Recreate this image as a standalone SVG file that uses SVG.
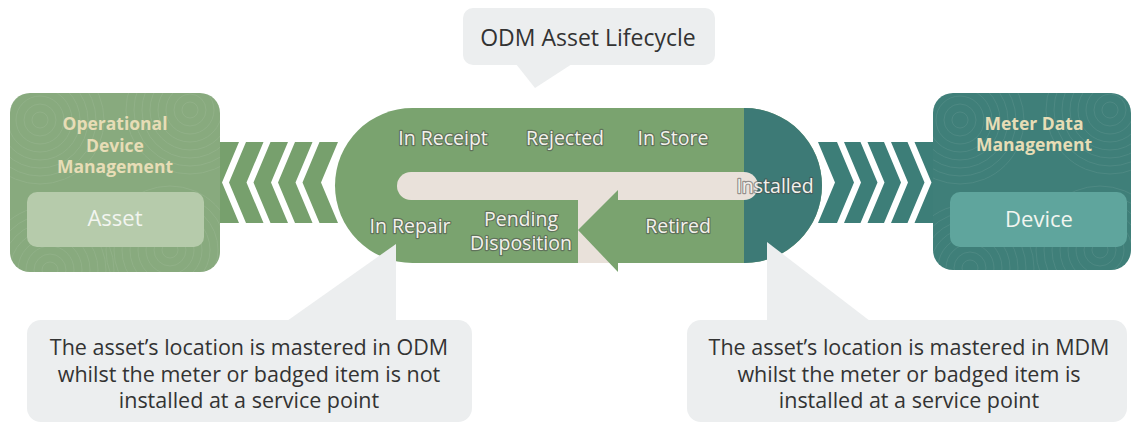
<svg xmlns="http://www.w3.org/2000/svg" width="1132" height="424" viewBox="0 0 1132 424">
<style>
.callout{fill:#eceeef}
.ctext{font-family:"Open Sans","Noto Sans",sans-serif;font-size:21.5px;fill:#333;text-anchor:middle}
.state{font-family:"Open Sans","Noto Sans",sans-serif;font-size:19.5px;fill:#f3f1ec;text-anchor:middle;stroke:#4a4a4a;stroke-width:2.4px;stroke-opacity:0.55;paint-order:stroke;stroke-linejoin:round}
.systitle{font-family:"Open Sans","Noto Sans",sans-serif;font-size:17.5px;font-weight:bold;fill:#e7ddb6;text-anchor:middle}
.inner{font-family:"Open Sans","Noto Sans",sans-serif;font-size:22px;fill:#f2f5f0;text-anchor:middle}
.gap{fill:#ffffff}
.texture{fill:none;stroke:#ffffff;stroke-opacity:0.08;stroke-width:1}
</style>
<defs>
<clipPath id="clipL"><rect x="10" y="93" width="210" height="179" rx="20"/></clipPath>
<clipPath id="clipR"><rect x="933" y="93" width="198" height="177" rx="20"/></clipPath>
<g id="rings">
<circle r="8"/><circle r="16"/><circle r="24"/><circle r="32"/><circle r="40"/><circle r="48"/><circle r="56"/><circle r="64"/>
</g>
</defs>
<rect width="1132" height="424" fill="#ffffff"/>

<g id="connectors">
<g id="flow-left">
<polygon points="220,142 338,142 321,182.5 338,223 220,223" fill="#77a06d"/>
<polygon class="gap" points="239,142 246,142 229,182.5 246,223 239,223 222,182.5"/>
<polygon class="gap" points="263.5,142 270.5,142 253.5,182.5 270.5,223 263.5,223 246.5,182.5"/>
<polygon class="gap" points="288,142 295,142 278,182.5 295,223 288,223 271,182.5"/>
<polygon class="gap" points="312.5,142 319.5,142 302.5,182.5 319.5,223 312.5,223 295.5,182.5"/>
</g>
<g id="flow-right">
<polygon points="818,142 936,142 936,223 818,223 835,182.5" fill="#3d7e78"/>
<polygon class="gap" points="837,142 844,142 861,182.5 844,223 837,223 854,182.5"/>
<polygon class="gap" points="860.5,142 867.5,142 884.5,182.5 867.5,223 860.5,223 877.5,182.5"/>
<polygon class="gap" points="884,142 891,142 908,182.5 891,223 884,223 901,182.5"/>
<polygon class="gap" points="907.5,142 914.5,142 931.5,182.5 914.5,223 907.5,223 924.5,182.5"/>
</g>
</g>

<g id="node-odm">
<rect x="10" y="93" width="210" height="179" rx="20" fill="#88aa7e"/>
<g clip-path="url(#clipL)" class="texture">
<use href="#rings" x="40" y="120"/><use href="#rings" x="170" y="250"/><use href="#rings" x="190" y="110"/><use href="#rings" x="50" y="270"/>
</g>
<text class="systitle" x="115" y="130">Operational<tspan x="115" dy="22">Device</tspan><tspan x="115" dy="21">Management</tspan></text>
<rect x="27" y="192" width="177" height="55" rx="10" fill="#b6cbab"/>
<text class="inner" x="115" y="226">Asset</text>
</g>

<g id="node-mdm">
<rect x="933" y="93" width="198" height="177" rx="20" fill="#3f7f79"/>
<g clip-path="url(#clipR)" class="texture">
<use href="#rings" x="960" y="120"/><use href="#rings" x="1100" y="250"/><use href="#rings" x="1110" y="110"/><use href="#rings" x="970" y="268"/>
</g>
<text class="systitle" x="1034" y="130">Meter Data<tspan x="1034" dy="21">Management</tspan></text>
<rect x="950" y="192" width="177" height="55" rx="10" fill="#5fa59d"/>
<text class="inner" x="1039" y="227">Device</text>
</g>

<g id="node-lifecycle">
<rect x="335" y="108" width="487" height="155" rx="77.5" fill="#7aa36f"/>
<path d="M744,108 H744.5 A77.5,77.5 0 0 1 744.5,263 H744 Z" fill="#3d7a76"/>
<rect x="397" y="172" width="361" height="28" rx="14" fill="#e9e1da"/>
<rect x="578" y="172" width="40" height="91" fill="#e9e1da"/>
<polygon points="578,230 618,190 618,272" fill="#7aa36f"/>
<text class="state" x="443" y="145">In Receipt</text>
<text class="state" x="565" y="145">Rejected</text>
<text class="state" x="673" y="145">In Store</text>
<text class="state" x="775" y="193">Installed</text>
<text class="state" x="410" y="233">In Repair</text>
<text class="state" x="521" y="226">Pending<tspan x="521" dy="24">Disposition</tspan></text>
<text class="state" x="678" y="233">Retired</text>
</g>

<g id="callout-title">
<rect class="callout" x="463" y="8" width="252" height="57" rx="10"/>
<polygon class="callout" points="516,64 572,64 535,88"/>
<text x="588" y="46" font-family="'Open Sans','Noto Sans',sans-serif" font-size="23" fill="#333" text-anchor="middle">ODM Asset Lifecycle</text>
</g>

<g id="callout-odm">
<polygon class="callout" points="287,321 396,244 396,321"/>
<rect class="callout" x="27" y="320" width="445" height="102" rx="14"/>
<text class="ctext" x="249" y="355">The asset’s location is mastered in ODM<tspan x="249" dy="27">whilst the meter or badged item is not</tspan><tspan x="249" dy="26">installed at a service point</tspan></text>
</g>

<g id="callout-mdm">
<polygon class="callout" points="767,242 767,321 870,321"/>
<rect class="callout" x="687" y="320" width="440" height="102" rx="14"/>
<text class="ctext" x="909" y="355">The asset’s location is mastered in MDM<tspan x="909" dy="27">whilst the meter or badged item is</tspan><tspan x="909" dy="26">installed at a service point</tspan></text>
</g>
</svg>
